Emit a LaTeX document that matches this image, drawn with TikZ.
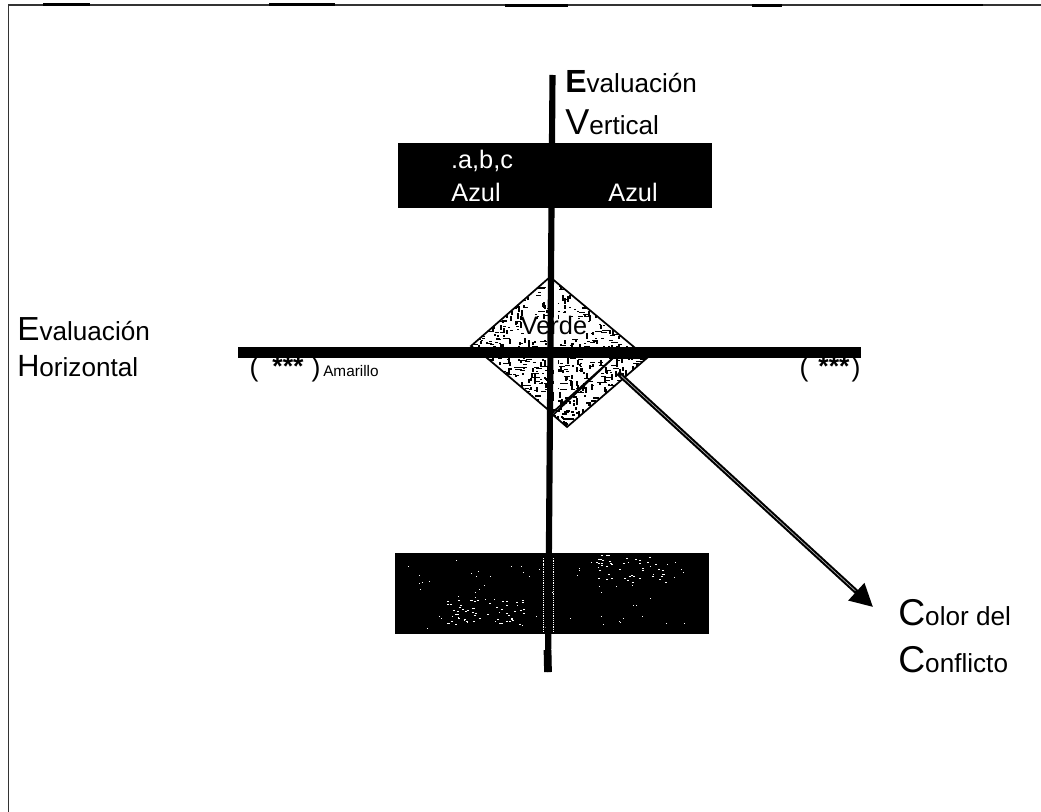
\documentclass[tikz,border=0pt]{standalone}
\usepackage{fontspec}
\setmainfont{Liberation Sans}
\usetikzlibrary{arrows.meta}
\tikzset{
  x=0.75pt,y=-0.75pt,
  lbl/.style={inner sep=0pt,anchor=base west,align=left,text=black},
  wlbl/.style={inner sep=0pt,anchor=base,text=white,font=\fontsize{19}{19}\selectfont},
  rombo/.style={draw=black,line width=1.3pt},
  topline/.style={line width=1.6pt,black},
  paren/.style={inner sep=0pt,anchor=base,font=\fontsize{20}{20}\selectfont},
  stars/.style={inner sep=0pt,anchor=base,font=\bfseries\fontsize{20}{20}\selectfont},
}
\newcommand{\cpa}[3]{{\fontsize{#1}{#1}\selectfont #2}{\fontsize{19.6}{19.6}\selectfont #3}}
\begin{document}
\begin{tikzpicture}
\useasboundingbox (0,0) rectangle (1041,812);
% frame
\coordinate (f1) at (8.5,812); \coordinate (f2) at (8.5,5); \coordinate (f3) at (1041,5);
\draw[line width=1pt,black!80] (f1) -- (f2) -- (f3);
\foreach \a/\b/\y in {43/90/4.5,269/335/4.5,505/568/5.5,752/782/5.5,900/983/5}{
  \draw[topline] (\a,\y) -- (\b,\y);
}
% boxes
\fill[black] (398,143) rectangle (712,208);
\fill[black] (395,553) rectangle (709,634);
% specks in the lower box
\pgfmathsetseed{41}
\foreach \i in {1,...,70}{
  \pgfmathsetmacro{\px}{400+random(0,300)}
  \pgfmathsetmacro{\py}{558+random(0,70)}
  \fill[white] (\px,\py) rectangle ++(1.2,1.2);
}
\foreach \i in {1,...,55}{
  \pgfmathsetmacro{\px}{445+random(0,80)}
  \pgfmathsetmacro{\py}{600+random(0,24)}
  \fill[white] (\px,\py) rectangle ++(1.6,1.2);
}
\foreach \i in {1,...,45}{
  \pgfmathsetmacro{\px}{595+random(0,70)}
  \pgfmathsetmacro{\py}{555+random(0,28)}
  \fill[white] (\px,\py) rectangle ++(1.6,1.2);
}
\foreach \i in {1,...,34}{
  \pgfmathsetmacro{\py}{556+2.2*\i}
  \fill[white] (543,\py) rectangle ++(1.2,1.2);
  \fill[white] (553,\py) rectangle ++(1.4,1.2);
}
% diamond + band: noise first, outlines over it
\begin{scope}
  \clip (550,277) -- (634,347) -- (647,358) -- (567,427) -- (553,415) -- (552,413) -- (487,358) -- (471,346) -- cycle;
  \foreach \i in {1,...,560}{
    \pgfmathsetmacro{\px}{470+random(0,178)}
    \pgfmathsetmacro{\py}{277+random(0,150)}
    \pgfmathsetmacro{\pw}{1.5+random(0,5)}
    \fill[black] (\px,\py) rectangle ++(\pw,1.5);
  }
  \foreach \i in {1,...,560}{
    \pgfmathsetmacro{\px}{470+random(0,178)}
    \pgfmathsetmacro{\py}{277+random(0,150)}
    \pgfmathsetmacro{\pw}{1.5+random(0,5)}
    \fill[black] (\px,\py) rectangle ++(1.5,\pw);
  }
  \fill[white] (554,285) rectangle (558,345);
  \fill[white] (554,360) rectangle (558,408);
  \fill[white] (524,319) rectangle (586,338);
\end{scope}
\path[rombo] (550,277) -- (634,347) -- (613,358) -- (552,413) -- (487,358) -- (471,346) -- cycle;
\path[rombo] (647,358) -- (567,427) -- (553,415) -- (613,358) -- cycle;
\node[inner sep=0pt,anchor=base,font=\fontsize{19}{19}\selectfont] (verde) at (554,335) {Verde};
% axes
\coordinate (vt) at (552.5,75); \coordinate (vb) at (548,672);
\coordinate (vs) at (547.5,650);
\coordinate (hl) at (238,352.5); \coordinate (hr) at (861,352.5);
\draw[line width=4.6pt] (vt) -- (vb);
\draw[line width=5.8pt] (vs) -- (vb);
\draw[line width=8pt] (hl) -- (hr);
% arrow
\coordinate (as) at (618,373); \coordinate (ae) at (873,607);
\draw[line width=3.6pt,-{Triangle[length=17pt,width=17pt]}] (as) -- (ae);
\draw[gray!60,line width=0.5pt,shorten >=18pt,shorten <=3pt] (as) -- (ae);
% labels
\node[lbl] (ev) at (565,93) {\cpa{24}{\bfseries E}{valuación}};
\node[lbl] (vv) at (565,135) {\cpa{27}{V}{ertical}};
\node[lbl] (eh) at (17,341) {\cpa{25}{E}{valuación}};
\node[lbl] (hh) at (17,377) {\cpa{23}{H}{orizontal}};
\node[lbl] (cc) at (898,625) {\cpa{28}{C}{olor del}};
\node[lbl] (cf) at (898,672) {\cpa{28}{C}{onflicto}};
\node[wlbl] (abc) at (482,169) {.a,b,c};
\node[wlbl] (a1) at (476,202) {Azul};
\node[wlbl] (a2) at (633,202) {Azul};
\node[paren] (p1l) at (254,377) {(};
\node[stars] (s1) at (288,376) {***};
\node[paren] (p1r) at (316,377) {)};
\node[lbl,font=\fontsize{11.5}{11.5}\selectfont] (am) at (323,377) {Amarillo};
\node[paren] (p2l) at (804,377) {(};
\node[stars] (s2) at (834,376) {***};
\node[paren] (p2r) at (856,377) {)};
\end{tikzpicture}
\end{document}
